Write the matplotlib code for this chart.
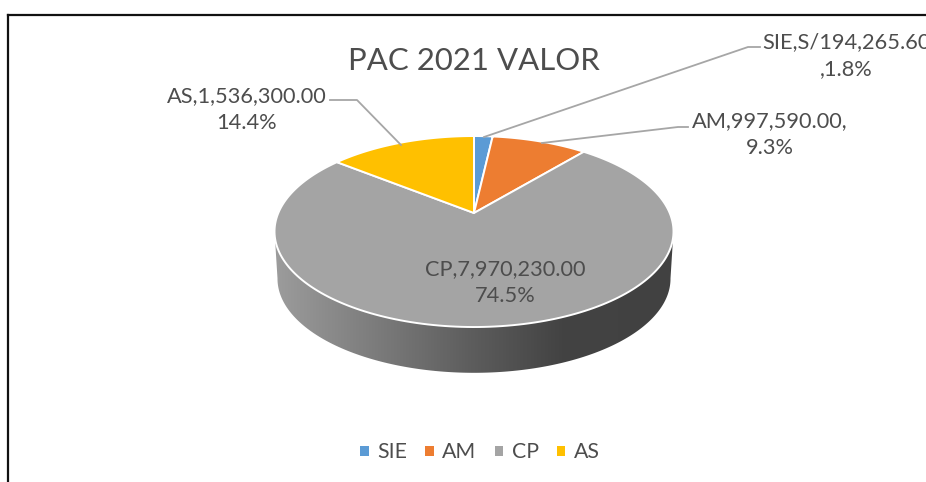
import numpy as np
import matplotlib
matplotlib.use("Agg")
import matplotlib.pyplot as plt
from matplotlib.patches import Polygon, Patch
from matplotlib.colors import LinearSegmentedColormap

categories = ["SIE", "AM", "CP", "AS"]
values = [194265.60, 997590.00, 7970230.00, 1536300.00]
colors = ["#5B9BD5", "#ED7D31", "#A4A4A4", "#FFC000"]
labels = ["SIE,S/194,265.60\n,1.8%", "AM,997,590.00,\n9.3%", "CP,7,970,230.00\n74.5%", "AS,1,536,300.00\n14.4%"]
title = "PAC 2021 VALOR"

plt.rcParams['font.family'] = ['Lato', 'DejaVu Sans']
TXT = "#4d4d4d"
fig = plt.figure(figsize=(9.26, 4.82), dpi=100)
ax = fig.add_axes([0, 0, 1, 1])
ax.set_xlim(0, 926); ax.set_ylim(482, 0); ax.axis("off")

# perspective model of the disc
X0, Y0, A, B, C = 474.0, 213.0, 195.7, 91.9, 0.194
def proj(theta, r=1.0, dy=0.0, s=1.0):
    u, v = r*np.sin(theta), -r*np.cos(theta)   # theta clockwise from 12 o'clock
    d = 1 - C*v
    return X0 + s*A*u/d, Y0 + dy + s*B*v/d

# frame
ax.plot([8, 8], [482, 15], color="#111111", lw=1.6, solid_capstyle="projecting")
ax.plot([8, 926], [15, 15], color="#111111", lw=1.6, solid_capstyle="projecting")

# side wall with gradient
t = np.linspace(0, 2*np.pi, 721)
tx, ty = proj(t)
bx, by = proj(t, dy=47.5, s=0.985)
il, ir = np.argmin(bx), np.argmax(bx)
jl, jr = np.argmin(tx), np.argmax(tx)
idx = np.arange(ir, il + 1)
wall = np.column_stack([bx[idx], by[idx]])
wall = np.vstack([[tx[jr], ty[jr]], wall, [tx[jl], ty[jl]]])
cmap = LinearSegmentedColormap.from_list("w", [(0, "#9c9c9c"), (0.5, "#5c5c5c"), (0.72, "#434343"), (1, "#414141")])
im = ax.imshow(np.linspace(0, 1, 256)[None, :], cmap=cmap, extent=[275, 674, 400, 200], aspect="auto", zorder=2)
poly = Polygon(wall, closed=True, transform=ax.transData, fc="none", ec="none")
ax.add_patch(poly)
im.set_clip_path(poly)
ax.set_xlim(0, 926); ax.set_ylim(482, 0)

# top wedges
fr = np.cumsum([0] + values) / np.sum(values) * 2*np.pi
for i, c in enumerate(colors):
    th = np.linspace(fr[i], fr[i+1], 200)
    x, y = proj(th)
    pts = np.column_stack([np.r_[X0, x], np.r_[Y0, y]])
    ax.add_patch(Polygon(pts, closed=True, fc=c, ec="white", lw=1.4, joinstyle="round", zorder=3))

# leader lines
LC = "#a6a6a6"
for xs, ys in [([484, 748, 760], [137, 47, 47]), ([542, 678, 688], [143, 127, 127]), ([401, 357, 330], [145, 100, 100])]:
    ax.plot(xs, ys, color=LC, lw=1.3, zorder=4)

# labels
FS = 15.7
pos = [(846, 55.5), (770, 134.5), (505, 282.5), (247, 109.5)]
for s, (x, y) in zip(labels, pos):
    ax.text(x, y, s, ha="center", va="center", fontsize=FS, color=TXT, linespacing=1.48, zorder=5, clip_on=True)

ax.text(474, 61, title, ha="center", va="center", fontsize=22.4, color=TXT, zorder=5)

handles = [Patch(fc=c, ec="none") for c in colors]
leg = ax.legend(handles, categories, ncol=4, frameon=False, fontsize=15.3, labelcolor=TXT,
                loc="center", bbox_to_anchor=(480/926, 1-452.5/482), bbox_transform=ax.transAxes,
                handlelength=0.4, handleheight=0.4, handletextpad=0.4, columnspacing=0.85,
                borderpad=0, borderaxespad=0)
fig.savefig("out.png", dpi=100, facecolor="white")
